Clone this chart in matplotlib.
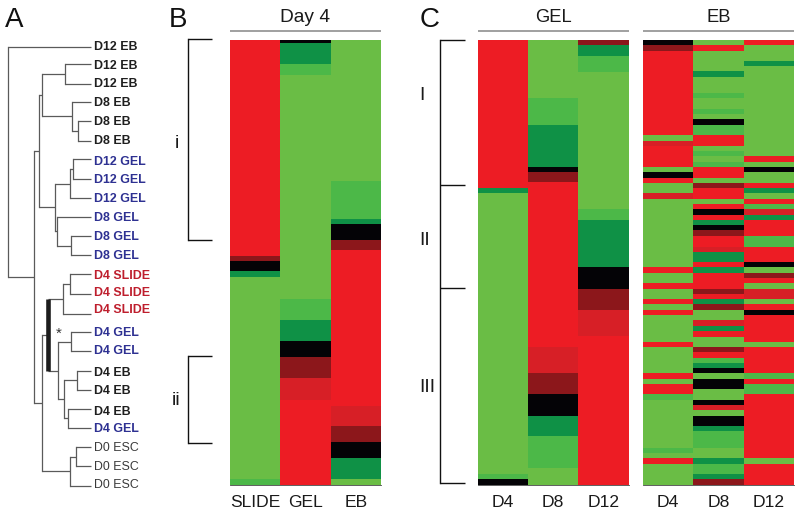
import numpy as np
import matplotlib
matplotlib.use("Agg")
import matplotlib.pyplot as plt

plt.rcParams['font.family'] = ['Liberation Sans', 'DejaVu Sans']

# expression levels
K, R1, R2, R3, G1, G2, G3 = 0, 1, 2, 3, -1, -2, -3
LEVEL_COLORS = {K: '#040306', R1: '#8C171B', R2: '#D71F26', R3: '#ED1C24',
                G1: '#0F9146', G2: '#4CB848', G3: '#6ABD45'}
N_GENES = 445

# ---- panel B, Day 4 (level of each band, last gene index of each band)
b_slide_levels = [R3, R1, K, G1, G3, G2]
b_slide_ends = [216, 221, 231, 237, 439, 445]
b_gel_levels = [K, G1, G2, G3, G2, G1, K, R1, R2, R3]
b_gel_ends = [3, 24, 35, 259, 280, 301, 317, 338, 360, 445]
b_eb_levels = [G3, G2, G1, K, R1, R3, R2, R1, K, G1, G3]
b_eb_ends = [141, 179, 184, 200, 210, 366, 386, 402, 418, 439, 445]

# ---- panel C, GEL
cg_d4_levels = [R3, G1, G3, G2, K]
cg_d4_ends = [148, 153, 434, 439, 445]
cg_d8_levels = [G3, G2, G1, K, R1, R3, R2, R1, K, G1, G2, G3]
cg_d8_ends = [58, 85, 127, 132, 142, 307, 333, 354, 376, 396, 428, 445]
cg_d12_levels = [R1, G1, G2, G3, G2, G1, K, R1, R2, R3]
cg_d12_ends = [5, 16, 32, 169, 180, 227, 249, 270, 296, 445]

# ---- panel C, EB
ce_d4_levels = [K, R1, R3, G3, R2, R3, G3, K, R3, G3, R2, G3, R3, G3, R3, G3, R3,
                G3, R3, G3, R3, G3, R3, G3, R3, G2, G3, G2, G3, R3, G3]
ce_d4_ends = [5, 10.7, 95.3, 100.7, 106, 127, 132, 137.7, 142.7, 153.3, 158.7, 227.3,
              232.7, 243.3, 248.7, 259.3, 264.3, 269.7, 275, 301.7, 307, 333.3, 339,
              344, 354.3, 359.7, 407.7, 413, 418.3, 423.7, 445]
ce_d8_levels = [G3, R3, G3, G1, G3, G2, G3, G2, G3, K, G2, R3, G3, G2, G3, G2, R3, G3,
                R1, R3, G3, R3, K, R3, G1, K, R1, R3, R2, G1, R3, G1, R3, R1, R3, G1,
                R1, G3, R2, G1, R3, G3, R1, R3, G2, G1, K, G3, K, G3, K, R2, G3, K, G1,
                G2, G3, G1, G2, G1, R1]
ce_d8_ends = [5, 10.7, 31.3, 36.7, 53.3, 58.3, 68.7, 74, 79.3, 84.7, 95.3, 105.7, 110.7,
              116, 121.7, 127, 137.7, 142.7, 148, 158.7, 164, 169.3, 174.7, 180, 185,
              190.3, 195.7, 206.7, 211.7, 222, 227.3, 232.7, 248.7, 254, 259.3, 264.3,
              269.7, 280.3, 285.7, 291, 296.7, 307, 312.3, 317.7, 322.7, 328, 333.3, 339,
              349, 359.7, 365.3, 370.3, 375.7, 386, 391.3, 407.7, 418.3, 423.7, 434,
              439.3, 445]
ce_d12_levels = [R3, G3, G1, G3, R3, G3, K, G3, R3, G1, G3, R3, G2, R2, G1, R3, G2, R3,
                 K, G3, R1, R3, G3, R2, G3, R3, K, R3, G3, R3, G2, R3, G2, R3, G3, R3]
ce_d12_ends = [5.3, 21, 26, 116, 121.7, 127, 132.3, 142.7, 148, 153.3, 158.7, 164, 169.3,
               174.7, 180, 195.7, 206.7, 222, 227.3, 232.7, 238, 243.3, 248.7, 259.3,
               264.3, 269.7, 275, 301.7, 307, 333.3, 339, 344, 354.3, 418.3, 423.7, 445]

# ---- panel A, dendrogram
leaf_labels = ['D12 EB', 'D12 EB', 'D12 EB', 'D8 EB', 'D8 EB', 'D8 EB',
               'D12 GEL', 'D12 GEL', 'D12 GEL', 'D8 GEL', 'D8 GEL', 'D8 GEL',
               'D4 SLIDE', 'D4 SLIDE', 'D4 SLIDE', 'D4 GEL', 'D4 GEL',
               'D4 EB', 'D4 EB', 'D4 EB', 'D4 GEL', 'D0 ESC', 'D0 ESC', 'D0 ESC']
leaf_y = [47, 64, 84, 102, 121, 140.5, 159, 179, 198, 217, 236, 255, 274.3, 294.3,
          313.7, 332.3, 351.3, 370.7, 390, 408.7, 427.7, 446.7, 466.3, 485.7]
label_y = [47, 65.7, 84.3, 103.3, 122, 140.7, 161.7, 180.3, 199.3, 218.3, 237, 255.7,
           276, 293, 310, 333.3, 351.5, 373, 391, 411.7, 429, 448, 466.7, 485]
# node = (merge position, child, child); integers are leaves
tree = (8.3, 0,
        (34.3,
         (39.3,
          (41.7, (65, 1, 2), (71.7, 3, (77.7, 4, 5))),
          (55, (69.7, (73, 6, 7), 8), (57.3, 9, (70.7, 10, 11)))),
         (41.7,
          (47.5,
           (62.7, (70.3, 12, 13), 14),
           (58, (70.7, 15, 16),
            (63.7, (76.7, 17, 18), (68.3, 19, 20)))),
          (70, (76, 21, 22), 23))))
THICK_NODE = 47.5

W, H = 800, 514
fig = plt.figure(figsize=(W / 100, H / 100), dpi=100, facecolor='white')


def heat_axes(x0, x1, y0, y1, columns, names):
    ax = fig.add_axes([x0 / W, 1 - y1 / H, (x1 - x0) / W, (y1 - y0) / H])
    for i, (levels, ends) in enumerate(columns):
        ends = np.asarray(ends, float)
        starts = np.r_[0, ends[:-1]]
        ax.bar(np.full(len(ends), i + 0.5), ends - starts, width=1.0, bottom=starts,
               color=[LEVEL_COLORS[v] for v in levels], linewidth=0, antialiased=False)
    ax.set_xlim(0, 3)
    ax.set_ylim(N_GENES, 0)
    ax.set_yticks([])
    ax.set_xticks(np.arange(3) + 0.5, names, fontsize=12.6, color='#1a1a1a')
    ax.tick_params(axis='x', length=0, pad=7.5)
    for s in ['top', 'left', 'right']:
        ax.spines[s].set_visible(False)
    ax.spines['bottom'].set_color('#444444')
    ax.spines['bottom'].set_linewidth(0.6)
    return ax


heat_axes(230, 381, 40, 485,
          [(b_slide_levels, b_slide_ends), (b_gel_levels, b_gel_ends), (b_eb_levels, b_eb_ends)],
          ['SLIDE', 'GEL', 'EB'])
heat_axes(477.7, 628.7, 40, 485,
          [(cg_d4_levels, cg_d4_ends), (cg_d8_levels, cg_d8_ends), (cg_d12_levels, cg_d12_ends)],
          ['D4', 'D8', 'D12'])
heat_axes(643, 794, 40, 485,
          [(ce_d4_levels, ce_d4_ends), (ce_d8_levels, ce_d8_ends), (ce_d12_levels, ce_d12_ends)],
          ['D4', 'D8', 'D12'])

# overlay in picture coordinates
ov = fig.add_axes([0, 0, 1, 1], facecolor='none')
ov.set_xlim(0, W)
ov.set_ylim(H, 0)
ov.axis('off')

TREE_C = '#5a5a5a'
LEAF_X = 91


def draw(node):
    """Returns (x, y) of the node, drawing its branches."""
    if isinstance(node, int):
        return LEAF_X, leaf_y[node]
    x, a, b = node
    xa, ya = draw(a)
    xb, yb = draw(b)
    ov.plot([x, xa], [ya, ya], color=TREE_C, lw=0.9, solid_capstyle='butt')
    ov.plot([x, xb], [yb, yb], color=TREE_C, lw=0.9, solid_capstyle='butt')
    if x == THICK_NODE:
        ov.plot([x, x], [ya, yb], color='#1c1c1c', lw=3.3, solid_capstyle='butt', zorder=5)
    else:
        ov.plot([x, x], [ya, yb], color=TREE_C, lw=0.9, solid_capstyle='projecting')
    return x, (ya + yb) / 2


draw(tree)
ov.text(58.3, 334, '*', fontsize=11, ha='center', va='center', color='#333333')

for name, y in zip(leaf_labels, label_y):
    if 'D0' in name:
        c, w = '#3a3a3a', 'normal'
    elif 'SLIDE' in name:
        c, w = '#BE1E2D', 'bold'
    elif 'GEL' in name:
        c, w = '#2E3192', 'bold'
    else:
        c, w = '#1f1f1f', 'bold'
    ov.text(94, y, name, fontsize=8.9, color=c, fontweight=w, ha='left', va='center')

# panel letters
for s, x in zip('ABC', [5, 169, 420]):
    ov.text(x, 27, s, fontsize=20, color='#111111', ha='left', va='baseline')

# group titles with rules
for s, x0, x1, size in [('Day 4', 230, 381, 13.8), ('GEL', 477.7, 628.7, 13.2), ('EB', 643, 794, 13.2)]:
    ov.plot([x0, x1], [30.5, 30.5], color='#999999', lw=1.3, solid_capstyle='butt')
    ov.text((x0 + x1) / 2, 22, s, fontsize=size, color='#1a1a1a', ha='center', va='baseline')


# brackets
def bracket(x, x_tick, ys):
    ov.plot([x, x], [ys[0], ys[-1]], color='#111111', lw=1.0, solid_capstyle='projecting')
    for y in ys:
        ov.plot([x, x_tick], [y, y], color='#111111', lw=1.0, solid_capstyle='butt')


bracket(188.3, 211.7, [39, 239.7])
bracket(188.3, 211.7, [355.7, 442.7])
bracket(440.3, 464.7, [40, 185, 288, 483.3])

for s, x, y in [('i', 177, 148), ('ii', 176.5, 405), ('I', 422, 100), ('II', 425, 245), ('III', 427, 391.7)]:
    ov.text(x, y, s, fontsize=14, color='#1a1a1a', ha='center', va='baseline')

fig.savefig('out.png', dpi=100)
